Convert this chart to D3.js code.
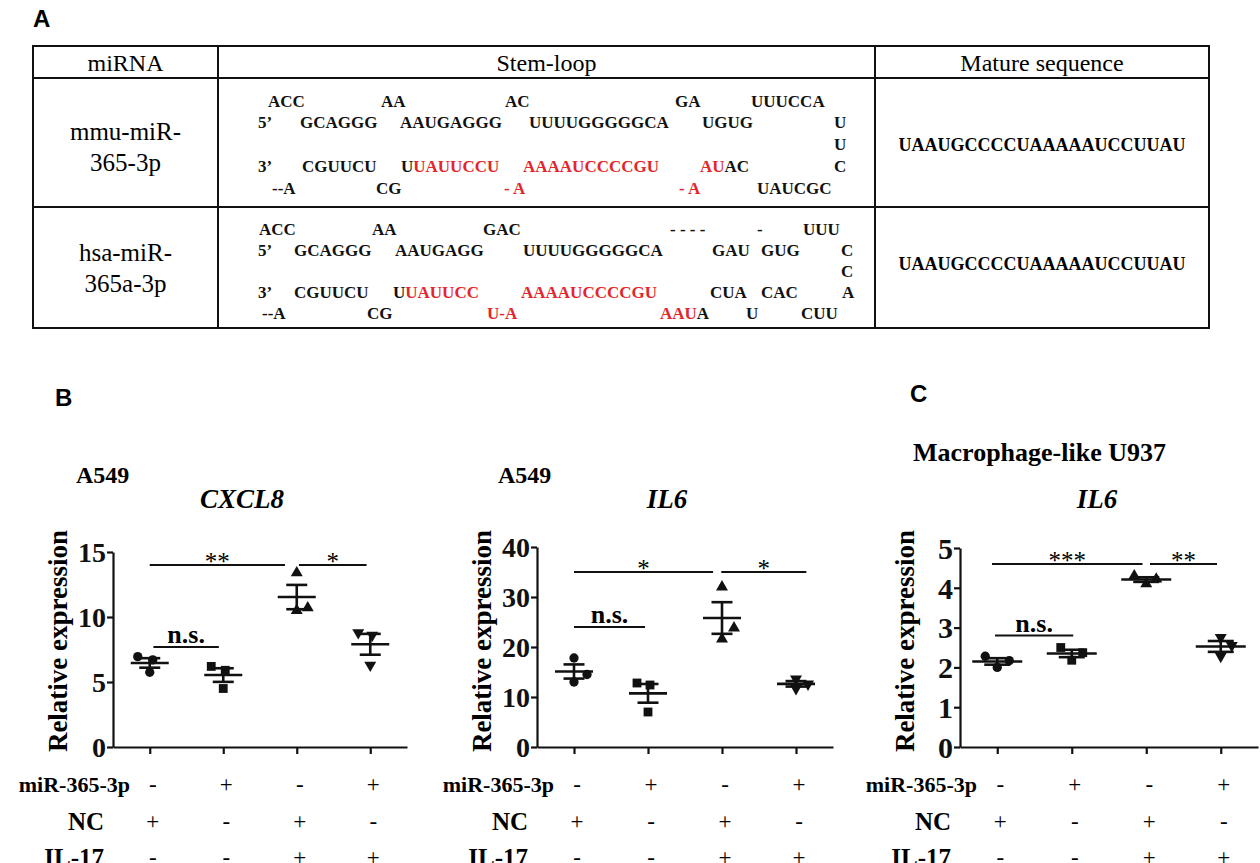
<!DOCTYPE html>
<html><head><meta charset="utf-8">
<script src="https://cdn.jsdelivr.net/npm/d3@7"></script>
<style>body{margin:0;background:#fff}svg{display:block}</style>
</head><body>
<svg id="fig" width="1260" height="863"></svg>
<script>
// ---------------- DATA ----------------
const groups = [0, 1, 2, 3];
const conditionLabels = ["miR-365-3p", "NC", "IL-17"];
const mirSigns  = ["-", "+", "-", "+"];
const ncSigns   = ["+", "-", "+", "-"];
const il17Signs = ["-", "-", "+", "+"];

// replicate values (3 per group)
const cxcl8A549 = [[6.95, 6.7, 5.75], [6.2, 5.9, 4.5], [13.4, 10.7, 10.5], [8.8, 8.6, 6.3]];
const il6A549   = [[17.8, 14.5, 13.0], [12.8, 12.4, 7.0], [32.0, 23.8, 21.6], [13.6, 12.6, 11.7]];
const il6U937   = [[2.28, 2.17, 2.0], [2.5, 2.37, 2.18], [4.3, 4.22, 4.1], [2.75, 2.55, 2.28]];

const cxcl8Ticks = [0, 5, 10, 15];
const il6A549Ticks = [0, 10, 20, 30, 40];
const il6U937Ticks = [0, 1, 2, 3, 4, 5];

// significance brackets: from / to in group-index units, height in data units
const cxcl8Sig = [{from: 0, to: 1.84, y: 14, label: "**"}, {from: 2.03, to: 2.95, y: 14, label: "*"}, {from: 0.05, to: 0.94, y: 7.7, label: "n.s."}];
const il6A549Sig = [{from: 0, to: 1.88, y: 35, label: "*"}, {from: 1.99, to: 3.14, y: 35, label: "*"}, {from: 0, to: 0.96, y: 24, label: "n.s."}];
const il6U937Sig = [{from: -0.07, to: 1.95, y: 4.6, label: "***"}, {from: 2.05, to: 2.95, y: 4.6, label: "**"}, {from: -0.03, to: 1.02, y: 2.8, label: "n.s."}];

// table text
const tableHeaders = ["miRNA", "Stem-loop", "Mature sequence"];
const mirnaNames = [["mmu-miR-", "365-3p"], ["hsa-miR-", "365a-3p"]];
const matureSeqs = ["UAAUGCCCCUAAAAAUCCUUAU", "UAAUGCCCCUAAAAAUCCUUAU"];
// stem-loop lines: segments of [text, isRed]
const mmuStemLoop = [
  [[["ACC",0]], [["AA",0]], [["AC",0]], [["GA",0]], [["UUUCCA",0]]],
  [[["5\u2019",0]], [["GCAGGG",0]], [["AAUGAGGG",0]], [["UUUUGGGGGCA",0]], [["UGUG",0]], [["U",0]]],
  [[["U",0]]],
  [[["3\u2019",0]], [["CGUUCU",0]], [["U",0],["UAUUCCU",1]], [["AAAAUCCCCGU",1]], [["AU",1],["AC",0]], [["C",0]]],
  [[["--A",0]], [["CG",0]], [["- A",1]], [["- A",1]], [["UAUCGC",0]]]
];
const hsaStemLoop = [
  [[["ACC",0]], [["AA",0]], [["GAC",0]], [["- - - -",0]], [["-",0]], [["UUU",0]]],
  [[["5\u2019",0]], [["GCAGGG",0]], [["AAUGAGG",0]], [["UUUUGGGGGCA",0]], [["GAU",0]], [["GUG",0]], [["C",0]]],
  [[["C",0]]],
  [[["3\u2019",0]], [["CGUUCU",0]], [["U",0],["UAUUCC",1]], [["AAAAUCCCCGU",1]], [["CUA",0]], [["CAC",0]], [["A",0]]],
  [[["--A",0]], [["CG",0]], [["U-A",1]], [["AAU",1],["A",0]], [["U",0]], [["CUU",0]]]
];

// ---------------- LAYOUT ----------------
const svg = d3.select("#fig");
const SERIF = "'Liberation Serif','Times New Roman',serif";
const SANS = "'Liberation Sans',Arial,sans-serif";
const RED = "#e3262b";

// panel letters
[["A", 33, 18], ["B", 55, 397], ["C", 910, 393]].forEach(([t, x, y]) =>
  svg.append("text").attr("x", x).attr("y", y).attr("dominant-baseline", "central")
    .style("font-family", SANS).style("font-weight", "bold").style("font-size", "24px").text(t));

// ---- table ----
const T = {x0: 33, x1: 1209, y0: 46, yH: 78, yR: 207, y1: 328, c1: 218, c2: 875};
const tg = svg.append("g").attr("stroke", "#111").attr("stroke-width", 2);
tg.append("rect").attr("x", T.x0).attr("y", T.y0).attr("width", T.x1 - T.x0).attr("height", T.y1 - T.y0).attr("fill", "none");
[T.yH, T.yR].forEach(y => tg.append("line").attr("x1", T.x0).attr("x2", T.x1).attr("y1", y).attr("y2", y));
[T.c1, T.c2].forEach(x => tg.append("line").attr("x1", x).attr("x2", x).attr("y1", T.y0).attr("y2", T.y1));

const headerX = [(T.x0 + T.c1) / 2, (T.c1 + T.c2) / 2, (T.c2 + T.x1) / 2];
tableHeaders.forEach((h, i) => svg.append("text").attr("x", headerX[i]).attr("y", 63)
  .attr("text-anchor", "middle").attr("dominant-baseline", "central")
  .style("font-family", SERIF).style("font-size", "24px").text(h));

const nameY = [[131, 162], [252, 283]];
mirnaNames.forEach((lines, r) => lines.forEach((l, k) =>
  svg.append("text").attr("x", headerX[0]).attr("y", nameY[r][k]).attr("text-anchor", "middle")
    .attr("dominant-baseline", "central").style("font-family", SERIF).style("font-size", "25px").text(l)));

const matureY = [145, 264];
matureSeqs.forEach((s, r) => svg.append("text").attr("x", headerX[2]).attr("y", matureY[r])
  .attr("text-anchor", "middle").attr("dominant-baseline", "central")
  .style("font-family", SERIF).style("font-weight", "bold").style("font-size", "18px").text(s));

// stem-loop x layout
const mmuX = [[268, 381, 505, 675, 751], [258, 300, 400, 529, 702, 834], [834], [258, 302, 401, 523, 700, 834], [272, 376, 504, 679, 757]];
const hsaX = [[259, 372, 483, 670, 757, 803], [258, 294, 395, 523, 712, 761, 841], [841], [258, 294, 393, 521, 710, 761, 842], [262, 367, 487, 660, 746, 801]];
const mmuY = [101, 122, 144, 166, 188];
const hsaY = [229, 250, 271, 292, 313];
function drawStem(lines, xs, ys) {
  lines.forEach((line, li) => line.forEach((segs, si) => {
    const t = svg.append("text").attr("x", xs[li][si]).attr("y", ys[li]).attr("dominant-baseline", "central")
      .style("font-family", SERIF).style("font-weight", "bold").style("font-size", "17px")
      .attr("xml:space", "preserve");
    segs.forEach(([s, red]) => t.append("tspan").attr("fill", red ? RED : "#111").text(s));
  }));
}
drawStem(mmuStemLoop, mmuX, mmuY);
drawStem(hsaStemLoop, hsaX, hsaY);

// ---- scatter panels ----
const symbols = [d3.symbolCircle, d3.symbolSquare, d3.symbolTriangle, d3.symbolTriangle];
const symSize = [68, 78, 62, 62];
const symRot = [0, 0, 0, 180];

function panel(o) {
  const x = d3.scalePoint().domain(groups).range([o.x0, o.x1]).padding(0.5);
  const xi = d3.scaleLinear().domain([0, 3]).range([x(0), x(3)]);
  const y = d3.scaleLinear().domain([0, o.ticks[o.ticks.length - 1]]).range([747, o.yTop]);
  const g = svg.append("g");

  const ya = g.append("g").attr("transform", `translate(${o.x0},0)`)
    .call(d3.axisLeft(y).tickValues(o.ticks).tickFormat(d3.format("d")).tickSize(6).tickPadding(1).tickSizeOuter(0));
  const xa = g.append("g").attr("transform", `translate(0,747)`)
    .call(d3.axisBottom(x).tickSize(7).tickFormat("").tickSizeOuter(0));
  [ya, xa].forEach(a => {
    a.select(".domain").attr("stroke", "#111").attr("stroke-width", 2.2);
    a.selectAll(".tick line").attr("stroke", "#111").attr("stroke-width", 2.2);
  });
  ya.selectAll(".tick text").style("font-family", SERIF).style("font-weight", "bold")
    .style("font-size", o.tickSize).attr("fill", "#111").attr("dy", "0.34em");

  // points
  o.values.forEach((vals, gi) => {
    vals.forEach((v, j) => {
      g.append("path")
        .attr("d", d3.symbol().type(symbols[gi]).size(symSize[gi])())
        .attr("transform", `translate(${x(gi) + o.offsets[gi][j]},${y(v)}) rotate(${symRot[gi]})`)
        .attr("fill", "#111");
    });
    const m = d3.mean(vals), sem = d3.deviation(vals) / Math.sqrt(vals.length);
    const cx = x(gi);
    const s = g.append("g").attr("stroke", "#111").attr("stroke-width", 2.6);
    s.append("line").attr("x1", cx - o.meanW / 2).attr("x2", cx + o.meanW / 2).attr("y1", y(m)).attr("y2", y(m));
    s.append("line").attr("x1", cx).attr("x2", cx).attr("y1", y(m - sem)).attr("y2", y(m + sem));
    [m - sem, m + sem].forEach(v => s.append("line").attr("x1", cx - o.capW / 2).attr("x2", cx + o.capW / 2).attr("y1", y(v)).attr("y2", y(v)));
  });

  // significance
  o.sig.forEach(s => {
    const x1 = xi(s.from), x2 = xi(s.to), yy = y(s.y);
    g.append("line").attr("x1", x1).attr("x2", x2).attr("y1", yy).attr("y2", yy).attr("stroke", "#111").attr("stroke-width", 2);
    const ns = s.label === "n.s.";
    g.append("text").attr("x", (x1 + x2) / 2).attr("y", ns ? yy - 4 : yy + 5).attr("text-anchor", "middle")
      .style("font-family", SERIF).style("font-weight", ns ? "bold" : "normal")
      .style("font-size", ns ? "26px" : "25px").text(s.label);
  });

  // titles
  g.append("text").attr("x", (x(0) + x(3)) / 2 + o.titleDx).attr("y", 499).attr("text-anchor", "middle")
    .attr("dominant-baseline", "central").style("font-family", SERIF).style("font-weight", "bold")
    .style("font-style", "italic").style("font-size", "27px").text(o.title);
  g.append("text").attr("x", o.subX).attr("y", o.subY).attr("dominant-baseline", "central")
    .style("font-family", SERIF).style("font-weight", "bold").style("font-size", o.subSize).text(o.sub);
  g.append("text").attr("transform", `translate(${o.x0 - 55},641) rotate(-90)`).attr("text-anchor", "middle")
    .attr("dominant-baseline", "central").style("font-family", SERIF).style("font-weight", "bold")
    .style("font-size", "27px").text("Relative expression");

  // condition rows
  const rowY = [784, 821, 857];
  const signs = [mirSigns, ncSigns, il17Signs];
  conditionLabels.forEach((lab, r) => {
    g.append("text").attr("x", r === 0 ? o.x0 + 17 : o.x0 - 9).attr("y", rowY[r]).attr("text-anchor", "end")
      .attr("dominant-baseline", "central").style("font-family", SERIF).style("font-weight", "bold")
      .style("font-size", r === 0 ? "22px" : "25px").text(lab);
    signs[r].forEach((sg, gi) => g.append("text").attr("x", x(gi) + 3).attr("y", rowY[r])
      .attr("text-anchor", "middle").attr("dominant-baseline", "central")
      .style("font-family", SERIF).style("font-size", "23px").text(sg));
  });
}

panel({x0: 113, x1: 407, yTop: 552, ticks: cxcl8Ticks, values: cxcl8A549, sig: cxcl8Sig,
  offsets: [[-12, 3, 0], [-12, 2, 0], [0, 11, 0], [-12, 2, 0]], meanW: 38, capW: 21, tickSize: "28px",
  title: "CXCL8", titleDx: -18, sub: "A549", subX: 76, subY: 475, subSize: "24px"});
panel({x0: 537, x1: 833, yTop: 547, ticks: il6A549Ticks, values: il6A549, sig: il6A549Sig,
  offsets: [[0, 13, 0], [-11, 2, 0], [0, 12, 0], [0, 12, 0]], meanW: 38, capW: 21, tickSize: "28px",
  title: "IL6", titleDx: -18, sub: "A549", subX: 498, subY: 475, subSize: "24px"});
panel({x0: 960, x1: 1258, yTop: 548, ticks: il6U937Ticks, values: il6U937, sig: il6U937Sig,
  offsets: [[-12, 12, 0], [-11, 11, 0], [-12, 10, 0], [0, 11, 0]], meanW: 50, capW: 26, tickSize: "30px",
  title: "IL6", titleDx: -12, sub: "Macrophage-like U937", subX: 913, subY: 452, subSize: "26px"});
</script>
</body></html>
